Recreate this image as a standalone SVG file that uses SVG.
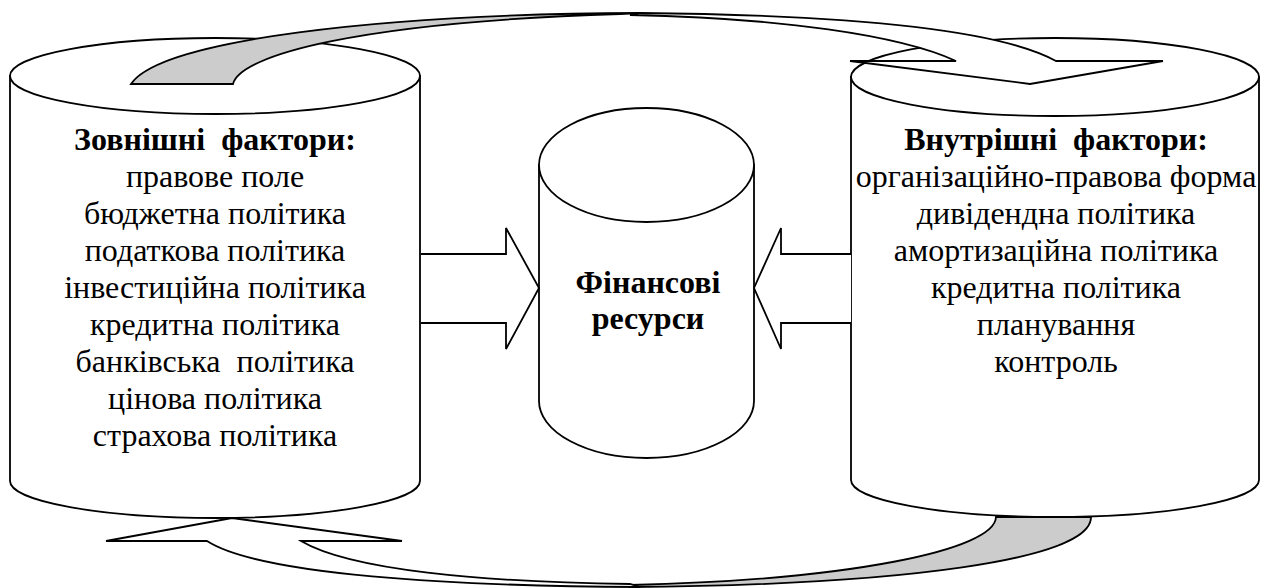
<svg xmlns="http://www.w3.org/2000/svg" width="1273" height="588" viewBox="0 0 1273 588">
<style>
.shape{fill:#fff;stroke:#000;stroke-width:1.8;stroke-linejoin:miter}
.gray{fill:#ccc;stroke:#000;stroke-width:1.8}
.t{font-family:"Liberation Serif","Times New Roman",serif;font-size:32px;fill:#000;text-anchor:middle}
.b{font-weight:bold}
</style>
<rect width="1273" height="588" fill="#fff"/>
<g id="node-external">
<path class="shape" d="M10,76 L10,481 A205,37 0 0 0 420,481 L420,76 Z"/>
<ellipse class="shape" cx="215" cy="76" rx="205" ry="38"/>
<g class="t">
<text class="b" x="215" y="150">Зовнішні&#160; фактори:</text>
<text x="215" y="187">правове поле</text>
<text x="215" y="224">бюджетна політика</text>
<text x="215" y="261">податкова політика</text>
<text x="215" y="298">інвестиційна політика</text>
<text x="215" y="335">кредитна політика</text>
<text x="215" y="372">банківська&#160; політика</text>
<text x="215" y="409">цінова політика</text>
<text x="215" y="446">страхова політика</text>
</g>
</g>
<g id="node-resources">
<path class="shape" d="M539,165 L539,401 A107.5,57 0 0 0 754,401 L754,165 Z"/>
<ellipse class="shape" cx="646.5" cy="165" rx="107.5" ry="57"/>
<g class="t b">
<text x="648" y="293">Фінансові</text>
<text x="648" y="329">ресурси</text>
</g>
</g>
<g id="node-internal">
<path class="shape" d="M851,77 L851,480 A204,37 0 0 0 1259,480 L1259,77 Z"/>
<ellipse class="shape" cx="1055" cy="77" rx="204" ry="39"/>
<g class="t">
<text class="b" x="1056" y="150">Внутрішні&#160; фактори:</text>
<text x="1056" y="187">організаційно-правова форма</text>
<text x="1056" y="224">дивідендна політика</text>
<text x="1056" y="261">амортизаційна політика</text>
<text x="1056" y="298">кредитна політика</text>
<text x="1056" y="335">планування</text>
<text x="1056" y="372">контроль</text>
</g>
</g>
<g id="connectors">
<path class="shape" d="M421,254 L506,254 L506,228 L539,288 L506,349 L506,323 L421,323"/>
<path class="shape" d="M851,254 L781,254 L781,228 L754,288 L781,349 L781,323 L851,323"/>
<path class="gray" d="M131,84 C160,40 380,14 640,13 L620,14 C360,22 240,55 233,84 Z"/>
<path class="shape" d="M640,13 C850,15 1000,30 1056,61 L1163,61 L1030,84 L850,61 L956,61 C900,35 780,18 630,15 Z"/>
<path class="gray" d="M996,517 C995,550 850,580 630,585 L630,587 C900,585 1092,560 1091,517 Z"/>
<path class="shape" d="M640,587 C450,586 260,575 207,541 L106,541 L232,518 L402,541 L301,541 C350,570 480,582 630,584 Z"/>
</g>
</svg>
